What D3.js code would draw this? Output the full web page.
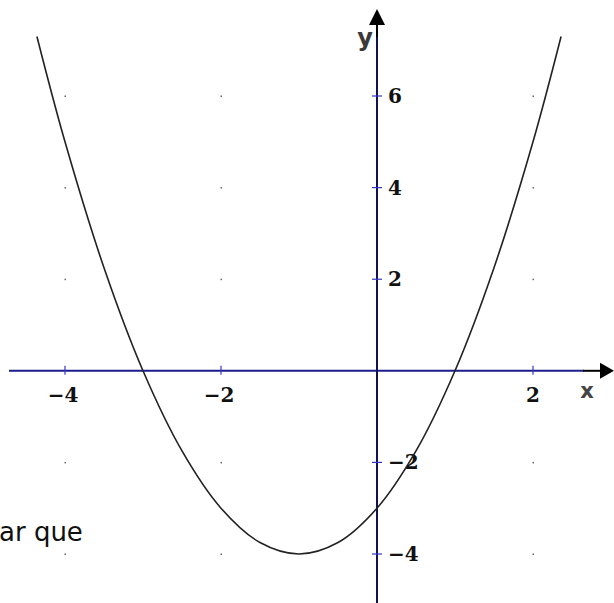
<!DOCTYPE html>
<html>
<head>
<meta charset="utf-8">
<script src="https://cdn.jsdelivr.net/npm/d3@7"></script>
<style>
  html, body { margin: 0; padding: 0; background: #fff; overflow: hidden; }
  svg { display: block; }
</style>
</head>
<body>
<div id="chart"></div>
<script>
// points (x, y)
const curveX = [-4.36, -4, -3.5, -3, -2.5, -2, -1.5, -1, -0.5, 0, 0.5, 1, 1.5, 2, 2.36];
const curveY = [7.3, 5, 2.25, 0, -1.75, -3, -3.75, -4, -3.75, -3, -1.75, 0, 2.25, 5, 7.3];

const xTicks = [-4, -2, 2];
const yTicks = [-4, -2, 2, 4, 6];
const dotX = [-4, -2, 0, 2];
const dotY = [-4, -2, 2, 4, 6];

const width = 614, height = 603;

let svg = d3.select('#chart').append('svg')
    .attr('width', width)
    .attr('height', height);

const x = d3.scaleLinear().domain([-4, 2]).range([65, 533]);
const y = d3.scaleLinear().domain([-4, 6]).range([554, 96]);

const x0 = x(0), y0 = y(0);
const fmt = d => (d < 0 ? '\u2212' + Math.abs(d) : '' + d);

// background dots
dotY.forEach(dy => {
    svg.selectAll(null)
        .data(dotX)
        .enter().append('rect')
        .attr('x', d => x(d) - 0.5)
        .attr('y', y(dy) - 0.5)
        .attr('width', 1.5)
        .attr('height', 1.5)
        .attr('fill', '#666');
});

// x axis
svg.append('line')
    .attr('x1', 9).attr('x2', 584)
    .attr('y1', y0).attr('y2', y0)
    .attr('stroke', '#1c1c8c').attr('stroke-width', 2);
svg.append('line')
    .attr('x1', 583).attr('x2', 602)
    .attr('y1', y0).attr('y2', y0)
    .attr('stroke', '#000').attr('stroke-width', 2);
svg.append('path')
    .attr('d', `M614,${y0} L600,${y0 - 8} L600,${y0 + 8} Z`)
    .attr('fill', '#000');

// y axis
svg.append('line')
    .attr('x1', x0).attr('x2', x0)
    .attr('y1', 36).attr('y2', height)
    .attr('stroke', '#12124e').attr('stroke-width', 2);
svg.append('line')
    .attr('x1', x0).attr('x2', x0)
    .attr('y1', 22).attr('y2', 37)
    .attr('stroke', '#000').attr('stroke-width', 2);
svg.append('path')
    .attr('d', `M${x0},9 L${x0 - 8},25 L${x0 + 8},25 Z`)
    .attr('fill', '#000');

// ticks
svg.selectAll('.xtick')
    .data(xTicks)
    .enter().append('line')
    .attr('x1', d => x(d)).attr('x2', d => x(d))
    .attr('y1', y0 - 5).attr('y2', y0 + 4)
    .attr('stroke', '#3535c8').attr('stroke-width', 1.2);

svg.selectAll('.ytick')
    .data(yTicks)
    .enter().append('line')
    .attr('x1', x0 - 5).attr('x2', x0 + 5)
    .attr('y1', d => y(d)).attr('y2', d => y(d))
    .attr('stroke', '#3535c8').attr('stroke-width', 1.2);

// tick labels
svg.selectAll('.xlab')
    .data(xTicks)
    .enter().append('text')
    .attr('x', d => x(d) - (d < 0 ? 2 : 0))
    .attr('y', y0 + 31)
    .attr('text-anchor', 'middle')
    .style('font-family', '"DejaVu Serif", serif')
    .style('font-weight', 'bold')
    .style('font-size', '20px')
    .attr('fill', '#111')
    .text(fmt);

svg.selectAll('.ylab')
    .data(yTicks)
    .enter().append('text')
    .attr('x', x0 + 11)
    .attr('y', d => y(d) + 7)
    .style('font-family', '"DejaVu Serif", serif')
    .style('font-weight', 'bold')
    .style('font-size', '20px')
    .attr('fill', '#111')
    .text(fmt);

// axis names
svg.append('text')
    .attr('x', 365).attr('y', 46)
    .attr('text-anchor', 'middle')
    .style('font-family', '"DejaVu Sans", sans-serif')
    .style('font-weight', 'bold')
    .style('font-size', '24px')
    .attr('fill', '#3a3a3a')
    .text('y');

svg.append('text')
    .attr('x', 587).attr('y', 398)
    .attr('text-anchor', 'middle')
    .style('font-family', '"DejaVu Sans", sans-serif')
    .style('font-weight', 'bold')
    .style('font-size', '21px')
    .attr('fill', '#444')
    .text('x');

// parabola
const pts = curveX.map((d, i) => [d, curveY[i]]);
const line = d3.line()
    .x(d => x(d[0]))
    .y(d => y(d[1]))
    .curve(d3.curveCatmullRom.alpha(0.5));

svg.append('path')
    .datum(pts)
    .attr('d', line)
    .attr('fill', 'none')
    .attr('stroke', '#222')
    .attr('stroke-width', 1.6);

// stray text from the page around the figure
svg.append('text')
    .attr('x', -1).attr('y', 541)
    .style('font-family', '"DejaVu Sans", sans-serif')
    .style('font-size', '26px')
    .attr('fill', '#111')
    .text('ar que');
</script>
</body>
</html>
